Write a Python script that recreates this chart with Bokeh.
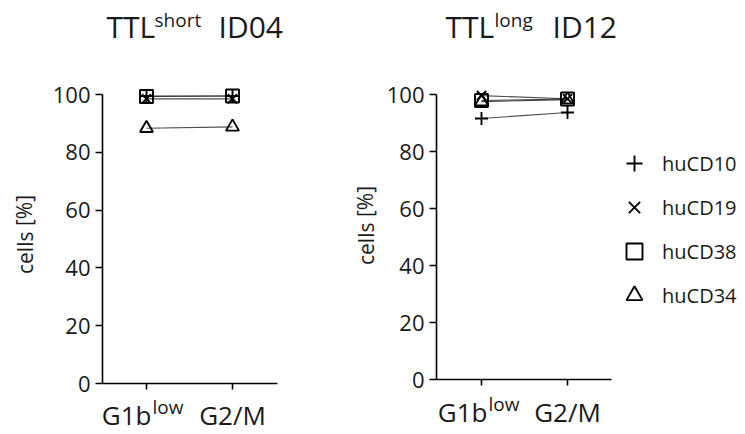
from bokeh.plotting import figure
from bokeh.models import Range1d, FixedTicker, Label, Legend, LegendItem
from bokeh.layouts import row
from bokeh.embed import file_html
from bokeh.resources import INLINE

# ---- data ----
categories = [1, 2]
cat_main = ["G1b", "G2/M"]
cat_sup = ["low", ""]
series = ["huCD10", "huCD19", "huCD38", "huCD34"]
markers = ["cross", "x", "square", "triangle"]

left_vals = {
    "huCD10": [99.5, 99.5],
    "huCD19": [98.5, 98.5],
    "huCD38": [99.3, 99.5],
    "huCD34": [88.3, 88.8],
}
right_vals = {
    "huCD10": [91.6, 93.7],
    "huCD19": [99.6, 98.5],
    "huCD38": [97.9, 98.4],
    "huCD34": [97.5, 98.2],
}
y_ticks = [0, 20, 40, 60, 80, 100]

FONT = "Open Sans"
TXT = "#1a1a1a"
H = 433
DY = H - 430  # screen-unit labels are measured from the frame bottom


def make_fig(vals, width, x_range, y_range, x_bounds, title_parts, title_y, sup_y,
             label_xy, base_y, low_y, g1_off):
    p = figure(width=width, height=H, min_border=0,
               min_border_left=0, min_border_right=0, min_border_top=0, min_border_bottom=0,
               x_range=Range1d(*x_range), y_range=Range1d(*y_range),
               output_backend="svg", toolbar_location=None)
    p.outline_line_color = None
    p.grid.visible = False
    p.background_fill_color = "white"
    p.border_fill_color = "white"

    for ax in (p.xaxis[0], p.yaxis[0]):
        ax.axis_line_width = 1.6
        ax.axis_line_color = "black"
        ax.major_tick_line_width = 1.6
        ax.major_tick_line_color = "black"
        ax.minor_tick_line_color = None
        ax.major_tick_in = 0
    p.yaxis.ticker = FixedTicker(ticks=y_ticks)
    p.yaxis.bounds = (0, 100)
    p.yaxis.fixed_location = x_bounds[0]
    p.yaxis.major_tick_out = 7
    p.yaxis.major_label_text_font = FONT
    p.yaxis.major_label_text_font_size = "22px"
    p.yaxis.major_label_text_color = TXT
    p.yaxis.major_label_standoff = 5
    p.xaxis.ticker = FixedTicker(ticks=categories)
    p.xaxis.bounds = x_bounds
    p.xaxis.fixed_location = 0
    p.xaxis.major_tick_out = 6
    p.xaxis.major_label_overrides = {c: "" for c in categories}

    rends = {}
    for s in series:
        p.line(categories, vals[s], line_color="black", line_width=1.1, line_alpha=0.7)
    for s, m in zip(series, markers):
        r = p.scatter(categories, vals[s], marker=m, size=13, line_color="black",
                      line_width=1.9, fill_color=None)
        rends[s] = r

    # x category labels
    for c, main, sup in zip(categories, cat_main, cat_sup):
        if sup:
            p.add_layout(Label(x=c, y=base_y + DY, x_units="data", y_units="screen", text=main,
                               x_offset=g1_off, text_align="right", text_baseline="alphabetic",
                               text_font=FONT, text_font_size="26px", text_color=TXT))
            p.add_layout(Label(x=c, y=low_y + DY, x_units="data", y_units="screen", text=sup,
                               x_offset=g1_off + 1, text_align="left", text_baseline="alphabetic",
                               text_font=FONT, text_font_size="19px", text_color=TXT))
        else:
            p.add_layout(Label(x=c, y=base_y + DY, x_units="data", y_units="screen", text=main,
                               text_align="center", text_baseline="alphabetic",
                               text_font=FONT, text_font_size="26px", text_color=TXT))

    # y axis label
    p.add_layout(Label(x=label_xy[0], y=label_xy[1] + DY, x_units="screen", y_units="screen",
                       text="cells [%]", angle=1.5708, text_align="center",
                       text_baseline="middle", text_font=FONT, text_font_size="21px",
                       text_color=TXT))

    # title
    (x1, t1), (x2, t2), (x3, t3) = title_parts
    p.add_layout(Label(x=x1, y=title_y + DY, x_units="screen", y_units="screen", text=t1,
                       text_align="left", text_baseline="alphabetic", text_font=FONT,
                       text_font_size="30px", text_color=TXT))
    p.add_layout(Label(x=x2, y=sup_y + DY, x_units="screen", y_units="screen", text=t2,
                       text_align="left", text_baseline="alphabetic", text_font=FONT,
                       text_font_size="19px", text_color=TXT))
    p.add_layout(Label(x=x3, y=title_y + DY, x_units="screen", y_units="screen", text=t3,
                       text_align="left", text_baseline="alphabetic", text_font=FONT,
                       text_font_size="30px", text_color=TXT))
    return p, rends


# left panel: category 1 at px 146, 86 px per category, y=0 at px 383, 2.89 px per %
W1 = 350
lx0 = 1 - 146 / 86
ly0 = -(H - 383) / 2.89
p1, _ = make_fig(left_vals, W1, (lx0, lx0 + W1 / 86), (ly0, ly0 + H / 2.89),
                 (0.488, 2.523), [(106, "TTL"), (154, "short"), (218, "ID04")], 404, 411,
                 (24, 196), 16, 24, 5)

# right panel
W2 = 393
rx0 = 1 - (481 - W1) / 86
ry0 = -(H - 379) / 2.85
p2, rends2 = make_fig(right_vals, W2, (rx0, rx0 + W2 / 86), (ry0, ry0 + H / 2.85),
                      (0.477, 2.512), [(95, "TTL"), (144, "long"), (202, "ID12")], 404, 411,
                      (15, 205), 19, 27, 6)

legend = Legend(items=[LegendItem(label=s, renderers=[rends2[s]]) for s in series],
                location=(261, 115 + DY), glyph_width=46, glyph_height=40, spacing=4,
                label_standoff=5, padding=0, margin=0, border_line_color=None,
                background_fill_alpha=0, label_text_font=FONT,
                label_text_font_size="20px", label_text_color=TXT)
p2.add_layout(legend)

layout = row(p1, p2)
open("out.html", "w").write(file_html(layout, INLINE))
